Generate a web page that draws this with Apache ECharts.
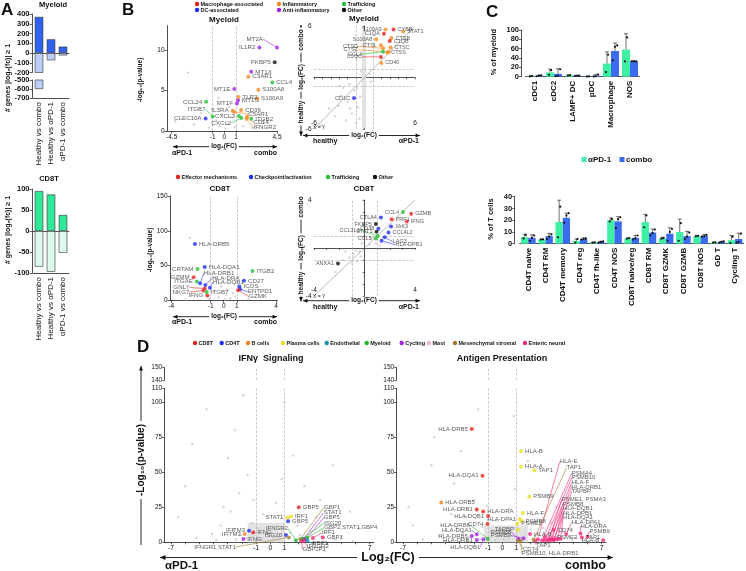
<!DOCTYPE html>
<html><head><meta charset="utf-8">
<script src="https://cdn.jsdelivr.net/npm/echarts@6/dist/echarts.min.js"></script>
<style>html,body{margin:0;padding:0;background:#fff}#c{width:746px;height:571px}</style>
</head><body><div id="c"></div>
<script>
const FONT = '"Liberation Sans", Arial, "DejaVu Sans", sans-serif';
// ================= DATA =================
// Panel A
const aCats = ['Healthy vs combo', 'Healthy vs αPD-1', 'αPD-1 vs combo'];
const aMyeloidUp = [370, 140, 65];
const aMyeloidDown = [-600, -75, -25];
const aCD8Up = [95, 87, 38];
const aCD8Down = [-85, -97, -52];
const aMyeloidTicksUpper = [-200, -100, 0, 100, 200, 300, 400];
const aMyeloidTicksLower = [-700, -600, -500];
const aCD8Ticks = [-100, -50, 0, 50, 100];

// Panel B  [log2FC, value, gene, group]
const bMyeloidVolcano = [
  [4.5,10.3,'MT2A','anti'],[3.0,10.3,'IL1R2','anti'],[4.3,8.5,'FKBP5','other'],[2.3,7.3,'MT1X','anti'],
  [2.05,6.7,'C3AR1','infl'],[4.1,6.0,'CCL4','traf'],[0.85,5.2,'MT1E','anti'],[2.9,5.1,'S100A8','infl'],
  [1.2,4.2,'TLR2','infl'],[2.8,4.0,'S100A9','infl'],[-1.55,3.6,'CCL24','traf'],[1.17,3.8,'MT1G','anti'],
  [1.08,3.4,'MT1F','anti'],[1.43,2.6,'CD36','infl'],[0.7,2.5,'IL3RA','infl'],[0.85,2.35,'C5AR1','infl'],
  [-1.0,1.8,'ITGB7','traf'],[-1.6,1.55,'CLEC10A','dc'],[1.25,1.85,'CXCL3','traf'],[1.45,1.6,'CXCL2','traf'],
  [2.3,1.5,'ITGB2','traf'],[1.95,1.75,'CD14','infl'],[1.9,1.5,'IFNGR2','infl']
];
const bMyeloidVolcanoGray = [[-3.1,7.2],[-4.2,1.2],[-2.6,0.8],[-0.4,0.6],[0.3,0.9],[-0.7,1.3],[0.6,1.7],[0.1,0.3],[-0.2,2.1],[0.9,0.5],[-1.3,0.4],[1.6,0.6],[2.4,0.4],[-2.0,2.2],[0.4,3.0],[-0.5,4.1],[3.3,1.0]];
const bMyeloidScatter = [
  [3.45,5.6,'CYBB','mac'],[4.6,5.35,'STAT1','infl'],[2.5,5.6,'S100A9','infl'],[2.3,5.1,'C1QA','mac'],
  [1.4,4.45,'S100A8','infl'],[3.2,4.6,'CTSB','infl'],[3.0,4.25,'C1QB','mac'],[1.95,3.75,'CTSL','infl'],
  [2.2,3.4,'CTSD','infl'],[2.9,3.0,'CTSZ','infl'],[3.1,3.5,'CTSC','infl'],[2.2,3.0,'CCL3','traf'],
  [1.95,2.4,'C1QC','mac'],[2.7,2.9,'CTSS','infl'],[2.0,1.7,'CD40','infl'],[-1.24,-2.4,'CD1C','dc']
];
const bMyeloidScatterGray = [[-1.2,-1.5],[-2.0,-2.8],[-0.8,-3.5],[-1.5,-4.2],[-2.5,-1.2],[-3.1,-3.3],[-0.5,-2.2],[-1.8,-0.8],[-3.5,-4.5],[-2.2,-5.0],[-4.2,-3.6],[-1.0,-5.3],[-0.6,-4.8],[-2.8,-2.1],[-1.4,-2.5],[-0.9,-1.2],[-3.0,-1.0],[-1.7,-3.6],[0.6,0.4],[0.8,-0.5],[-0.4,0.7],[-5.2,-5.6]];
const bCD8Volcano = [
  [-2.2,81,'HLA-DRB5','chk'],[-2.0,45,'CRTAM','traf'],[-1.45,48,'HLA-DQA1','chk'],[-2.3,33,'GZMM','eff'],
  [-2.05,27,'ITGAE','traf'],[-1.8,24.5,'HLA-DRB1','chk'],[-1.4,22,'HLA-DRA','chk'],[-1.05,18,'HLA-DQB1','chk'],
  [-1.45,17,'GNLY','eff'],[-1.55,14,'NKG7','eff'],[-1.25,7,'IFNG','eff'],[-1.3,12,'ITGB7','traf'],
  [2.2,42,'ITGB2','traf'],[1.55,28,'CD27','chk'],[1.2,20,'ICOS','chk'],[1.25,16,'ENTPD1','chk'],[1.1,14.5,'GZMK','eff']
];
const bCD8VolcanoGray = [[-0.4,4],[0.2,8],[-0.8,12],[0.5,3],[-0.2,20],[0.7,10],[-1.1,2],[0.9,5],[-0.6,30],[0.3,15],[-2.9,1],[1.9,2],[-2.6,90],[0.1,1]];
const bCD8Scatter = [
  [3.05,3.0,'CCL4','traf'],[3.7,2.85,'GZMB','eff'],[2.15,2.4,'PRF1','eff'],[3.35,2.2,'IFNG','eff'],
  [1.3,2.55,'CTLA4','chk'],[0.9,2.0,'FKBP5','other'],[1.1,1.6,'CD38','chk'],[0.95,1.35,'STAT1','other'],
  [2.1,1.8,'JAK3','chk'],[1.05,1.0,'CCL3L3','traf'],[0.9,0.8,'CCL5','traf'],[1.9,1.3,'CCL4L2','chk'],
  [1.6,0.9,'LAG3','chk'],[1.35,0.6,'HLA-DPB1','chk'],[-2.1,-1.3,'ANXA1','other']
];
const bCD8ScatterGray = [[-1.5,-0.3],[-1.2,-0.8],[-0.9,-0.5],[-0.6,-1.1],[-1.7,-1.0],[-0.4,-0.3],[-1.0,-1.3],[-0.7,-0.2],[0.4,0.3],[0.7,0.9],[0.9,0.4],[0.5,0.8],[1.2,0.2],[-0.3,-0.7],[-2.3,-2.0],[-0.2,0.4]];

// Panel C
const cMyeloidCats = ['cDC1','cDC2','LAMP+ DC','pDC','Macrophage','NOS'];
const cMyeloidPD1 = [1, 9, 3, 0.5, 28, 58];
const cMyeloidCombo = [2, 6, 2, 2, 55, 33];
const cMyeloidPD1Sd = [1, 7, 1, 0.5, 25, 34];
const cMyeloidComboSd = [1, 11, 1, 3, 17, 1];
const cMyeloidPD1Pts = [[0.5,1.5],[4,14],[2.5,3.5],[0.3,0.7],[10,47],[33,84]];
const cMyeloidComboPts = [[1,2.5,3],[1,2,16],[1.5,2,2.5],[0.5,1,4.5],[35,64,67],[33,33,33]];
const cTCats = ['CD4T naive','CD4T RM','CD4T memory','CD4T reg','CD4T fh-like','CD4T NOS','CD8T naive/reg','CD8T RM','CD8T GZMK','CD8T GZMB','CD8T NOS','GD T','Cycling T'];
const cTPD1 = [5.5,3.5,18.5,2.3,1,20,4.5,18.5,4.5,10,6.5,1,3];
const cTCombo = [5,6.5,22,4,1.5,19,5,9.5,8.5,6.5,6.5,1.5,4];
const cTPD1Sd = [2.5,0.5,18.5,1.7,0.2,1.8,0.5,6.5,1,11,0.5,0.3,4];
const cTComboSd = [2.5,2.3,4,1,0.5,4,2,3,5,4,1.2,0.5,5];
const cTPD1Pts = [[4.5,7.5],[3.5,3.7],[5.5,31.5],[1,4],[0.9,1.1],[19,21],[4.2,4.8],[14,24],[4.3,4.8],[2.5,17.5],[6.3,6.7],[0.9,1.1],[0.5,6]];
const cTComboPts = [[2.5,5,7],[4,6,8],[18,24,26],[3.5,4,4.5],[1,1.5,2],[13.5,21,22.5],[3.5,4.5,7],[7,9,12],[2.5,10,12.5],[4,6,9.5],[6,6.5,7.5],[1,1.5,2],[1,1.5,8.5]];

// Panel D
const dGroups = ['CD8T','CD4T','B cells','Plasma cells','Endothelial','Myeloid','Cycling','Mast','Mesenchymal stromal','Enteric neural'];
const dIfng = [
  [2.0,25,'GBP5','cd8'],[1.2,17.5,'STAT1','plasma'],[1.45,18.5,'IRF1','plasma'],[1.25,15,'GBP5','cd4'],
  [-1.5,8.3,'IFITM3','cd4'],[-1.2,7,'IFNG','cd8'],[-1.8,6,'IFITM3','b'],[-1.9,2.4,'IFNG','cycling'],
  [1.1,5.2,'ISG20','cd4'],[1.8,1.5,'IFNGR2','myeloid'],[1.3,3.5,'IFNGR1,STAT1','mes'],[2.1,2.2,'GBP1','mes'],
  [2.35,2.6,'STAT1','cycling'],[2.5,2.0,'GBP5','cycling'],[2.25,2.4,'ISG20','myeloid'],[2.6,3.2,'GBP2,STAT1,GBP4','myeloid'],
  [3.0,3.0,'IRF1','neural'],[3.7,3.5,'GBP1','neural'],[2.6,1.2,'GBP1','endo'],[2.35,1.0,'IFNGR2','neural'],[2.2,0.8,'GBP1P1','neural']
];
const dIfngGray = [[-3.5,12],[-2.8,22],[-4.1,6],[-5.2,3],[-2.2,35],[-1.6,48],[-3.0,60],[-2.5,80],[-1.9,105],[-4.5,95],[-6.0,40],[-0.5,20],[0.4,28],[0.8,45],[1.6,62],[2.4,40],[3.2,18],[4.1,9],[5.0,4],[2.8,8],[1.9,12],[-0.9,10],[-1.3,14],[-0.3,6],[0.6,4],[-2.1,5],[-2.6,9],[3.5,30],[4.4,55],[5.6,22],[6.2,10],[-6.5,18],[-5.5,70],[1.0,100],[-3.3,25],[-1.2,30],[0.2,3],[-0.6,2],[1.4,7],[2.1,5],[-1.7,3],[-2.4,2],[3.6,4],[4.6,2],[-3.8,1.5],[5.8,1]];
const dAntigen = [
  [-2.15,81,'HLA-DRB5','cd8'],[1.32,65,'HLA-B','plasma'],[1.32,54,'HLA-A','plasma'],[2.25,51.5,'TAP1','plasma'],
  [-1.4,47.5,'HLA-DQA1','cd8'],[1.9,32.5,'PSMB9','plasma'],[-4.3,28.5,'HLA-DRB5','b'],[-1.8,23.5,'HLA-DRB1','cd8'],
  [-1.35,22,'HLA-DRA','cd8'],[-1.0,18.8,'HLA-DQB1','cd8'],[1.45,21,'HLA-F','plasma'],[1.25,16.5,'HLA-DPA1','plasma'],
  [1.35,15.3,'PSMB8','plasma'],[1.05,13.3,'PSME2','plasma'],[-1.05,13,'CD74','cd8'],
  [-1.8,5.7,'HLA-DQA1','cycling'],[-2.15,4.5,'HLA-DRB5','cycling'],[-1.8,1.6,'HLA-DRB1','cycling'],[-1.34,2.1,'HLA-DQB1','cycling'],[-1.03,2.6,'HLA-DRB6','myeloid'],
  [1.1,9,'TAPBP','plasma'],[1.13,2.4,'PSMB8','cycling'],[1.5,2.9,'PSMB9','cycling'],[1.1,1.2,'CD74','mes'],[1.3,1.0,'PSMB10, HLA-DRB1','mes'],
  [1.95,6,'HLA-B','neural'],[2.3,1.0,'TAP1','neural'],[2.5,2.0,'HLA-E','neural'],[2.2,1.8,'TAP1','mes'],[2.8,1.5,'PSMA4','neural'],
  [3.0,1.6,'PSMB10','neural'],[3.2,1.5,'HLA-F','neural'],[3.4,1.7,'HLA-DRB1','neural'],[3.6,1.6,'TAPBP','neural'],[3.3,2.2,'PSME1, PSMA3','neural'],
  [3.5,2.4,'PSMB8','neural'],[3.7,2.0,'HLA-DQB1','neural'],[3.9,2.2,'HLA-DPB1','neural'],[4.1,2.5,'HLA-DQA1','neural'],[4.5,6,'HLA-DPA1','neural'],
  [5.5,6.2,'HLA-DRA','neural'],[6.0,4.2,'PSMB9','neural'],[3.6,8.8,'CD74','neural'],[3.0,3.8,'PSME2','neural'],[5.6,3.5,'TAP1','neural'],[7.1,1.5,'HLA-B','neural']
];
const dAntigenGray = [[-3.2,10],[-2.6,18],[-4.4,5],[-5.6,2],[-2.0,30],[-3.4,42],[-2.9,65],[-1.7,95],[-5.0,55],[-6.3,12],[-0.4,15],[0.5,24],[0.9,38],[1.8,58],[2.6,34],[3.4,14],[4.3,7],[5.2,3],[2.9,10],[2.0,9],[-0.8,8],[-1.4,11],[-0.2,5],[0.4,3],[-2.3,4],[-2.8,7],[3.8,25],[4.8,40],[5.9,16],[6.4,6],[-6.6,25],[-4.8,75],[0.8,90],[-3.6,20],[-1.1,26],[0.1,2],[-0.5,1.5],[1.6,6],[2.3,4],[-1.6,2],[-2.5,1.5],[3.9,3],[4.9,1.5],[-4.0,1],[6.1,1]];

// Label layout tables (side[:dx:dy] in px from point centre)
const layBMV = ['L:-14:-8.6','L','L','R','R','R','L','R','R','R','L','R','L','R','L','R:14:2','L:-7:-7','L','L','L:-10:5','R','R:6:5.5','R:7:8.5'];
const layBMS = ['R','R','L','L','L','R','R','L','L:-25:-2','L:-31:-2','R','L:-21:2.4','L:-19:0','R','R','L'];
const layBCV = ['R','L','R','L','L','R:3.6:-10','R:7:-7','R:3:-5.5','L:-15:-1','L:-14:1.5','L','R','R','R','R','R:7.6:2.5','R:11:6.5'];
const layBCS = ['L','R','R','R','L','L','L','L','R','L:-18:-6','L','R','R:8:4.5','R:14:4','L'];
const layDI = ['R','L','R','R','L','R','L','R','L','L:-8:-11.5','L:-53:9.6','R:24:-32','R:20:-26','R:18:-22','R:22:-16','R:17:-10','R:9:-5.4','R','R:4.5:2.7','R:3:5','R:1:8'];
const layDA = ['L','R','R','R','L','R','R','L','R','L','R','L','R','R','L',
  'L:-5:-4','L','L','L:-3:7.5','L:-17.7:-13.7',
  'L','L:-7:-7','L:-12.6:-2.7','R:5:8.5','R:1:12',
  'R','R:1:4','R:22:-78','R:33:-72','R:29.6:-67','R:26.8:-62.4','R:24:-57.5','R:21:-52.6','R:18.3:-48.3','R:12.5:-40','R:11:-35','R:8:-31','R:5.3:-26','R:2.5:-21.5','R:5.5:-11.6','R:0:-7','R:2:-5','R','R:12:0','R','L'];

// ================= STYLE =================
const bColors = {mac:'#e8231f', dc:'#1f2ef0', infl:'#f58a1f', anti:'#a322e0', traf:'#22c23a', other:'#111111', eff:'#e8231f', chk:'#1f2ef0'};
const dColors = {cd8:'#e8231f', cd4:'#1f2ef0', b:'#f5821f', plasma:'#eee01a', endo:'#1f8fae', myeloid:'#22b52c', cycling:'#a322e0', mast:'#f4b4d4', mes:'#a07a2c', neural:'#f0287a'};
const dLegendColors = ['#e8231f','#1f2ef0','#f5821f','#eee01a','#1f8fae','#22b52c','#a322e0','#f4b4d4','#a07a2c','#f0287a'];
const GREEN = '#3ff0a2', BLUE = '#3b6cf0', GRAY = '#cdcdcd';

const grids = [], xAxes = [], yAxes = [], series = [], G = [];
function addGrid(left, top, width, height){ grids.push({left, top, width, height, containLabel:false}); return grids.length-1; }
function addX(o){ xAxes.push(o); return xAxes.length-1; }
function addY(o){ yAxes.push(o); return yAxes.length-1; }
const AL = (onZero, show=true)=>({show, onZero:!!onZero, lineStyle:{color:'#222', width:0.8}});
const TK = (vals, len=2.5)=>({show:true, length:len, customValues:vals, lineStyle:{color:'#222', width:0.7}});
const LB = (vals, o={})=>Object.assign({show:true, customValues:vals, fontSize:6.5, color:'#111', fontFamily:FONT, margin:2.5}, o);
const NOSPLIT = {show:false};

function parseLay(s){ const p = s.split(':'); return {side:p[0], dx:p.length>1?+p[1]:(p[0]==='L'?-4:4), dy:p.length>1?+p[2]:0, moved:p.length>1}; }
function ptSeries(xi, yi, arr, lay, colors, fs){
  const L = lay.map(parseLay);
  return {type:'scatter', xAxisIndex:xi, yAxisIndex:yi, symbolSize:4, z:5, animation:false,
    data: arr.map((d,i)=>({value:[d[0],d[1]], name:d[2], itemStyle:{color:colors[d[3]]},
      labelLine:{show:L[i].moved, lineStyle:{color:colors[d[3]], width:0.6}}})),
    label:{show:true, formatter:'{b}', fontSize:fs||6, color:'#333', fontFamily:FONT},
    labelLayout:(p)=>{ const l=L[p.dataIndex]; const cx=p.rect.x+p.rect.width/2, cy=p.rect.y+p.rect.height/2;
      return {x:cx+l.dx, y:cy+l.dy, align:l.side==='L'?'right':'left', verticalAlign:'middle'}; }
  };
}
function graySeries(xi, yi, arr, lines, area){
  const s = {type:'scatter', xAxisIndex:xi, yAxisIndex:yi, symbolSize:2.5, silent:true, z:2, data:arr, itemStyle:{color:GRAY}};
  if (lines) s.markLine = {silent:true, symbol:'none', label:{show:false}, lineStyle:{type:'dashed', color:'#b5b5b5', width:0.7}, data:lines};
  if (area) s.markArea = {silent:true, itemStyle:{color:'#e2e2e2'}, data:area};
  return s;
}
function T(x, y, text, o={}){
  G.push({type:'text', x, y, rotation:o.rot||0, z:20, silent:true,
    style:{text, fill:o.color||'#111', font:(o.bold===false?'':'bold ')+(o.size||7)+'px '+FONT,
      align:o.align||'left', verticalAlign:o.va||'middle', backgroundColor:o.bg||null, padding:o.pad||0}});
}
function dot(x, y, c, r=2.2){ G.push({type:'circle', shape:{cx:x, cy:y, r}, style:{fill:c}, z:20, silent:true}); }
function rect(x, y, w, h, c){ G.push({type:'rect', shape:{x, y, width:w, height:h}, style:{fill:c}, z:20, silent:true}); }
function arrowH(x1, x2, y, h=2.6){
  G.push({type:'line', shape:{x1, y1:y, x2, y2:y}, style:{stroke:'#111', lineWidth:0.9}, z:15, silent:true});
  G.push({type:'polygon', shape:{points:[[x1,y],[x1+h*1.7,y-h*0.75],[x1+h*1.7,y+h*0.75]]}, style:{fill:'#111'}, z:15, silent:true});
  G.push({type:'polygon', shape:{points:[[x2,y],[x2-h*1.7,y-h*0.75],[x2-h*1.7,y+h*0.75]]}, style:{fill:'#111'}, z:15, silent:true});
}
function arrowV(x, y1, y2, both=true, h=2.6){
  G.push({type:'line', shape:{x1:x, y1, x2:x, y2}, style:{stroke:'#111', lineWidth:0.9}, z:15, silent:true});
  G.push({type:'polygon', shape:{points:[[x,y1],[x-h*0.75,y1+h*1.7],[x+h*0.75,y1+h*1.7]]}, style:{fill:'#111'}, z:15, silent:true});
  if (both) G.push({type:'polygon', shape:{points:[[x,y2],[x-h*0.75,y2-h*1.7],[x+h*0.75,y2-h*1.7]]}, style:{fill:'#111'}, z:15, silent:true});
}

// ================= PANEL A =================
const gA0 = addGrid(33, 14, 36, 58.5);
const xA0 = addX({type:'category', gridIndex:gA0, data:aCats, axisLine:AL(true), axisTick:{show:false}, axisLabel:{show:false}});
const yA0 = addY({type:'value', gridIndex:gA0, min:-200, max:400, offset:1, axisLine:AL(false), axisTick:TK(aMyeloidTicksUpper), axisLabel:LB(aMyeloidTicksUpper,{fontWeight:'bold', fontSize:7.5}), splitLine:NOSPLIT});
const gA1 = addGrid(33, 80, 36, 18);
const xA1 = addX({type:'category', gridIndex:gA1, data:aCats, axisLine:AL(false), axisTick:{show:false}, axisLabel:{interval:0, rotate:90, fontSize:8, color:'#111', fontFamily:FONT, margin:4}});
const yA1 = addY({type:'value', gridIndex:gA1, min:-700, max:-500, offset:1, axisLine:AL(false), axisTick:TK(aMyeloidTicksLower), axisLabel:LB(aMyeloidTicksLower,{fontWeight:'bold', fontSize:7.5}), splitLine:NOSPLIT});
const barBorder = {borderColor:'#333', borderWidth:0.6};
series.push({type:'bar', xAxisIndex:xA0, yAxisIndex:yA0, data:aMyeloidUp, barWidth:8.5, barGap:'-100%', itemStyle:Object.assign({color:'#2f62ee'}, barBorder)});
series.push({type:'bar', xAxisIndex:xA0, yAxisIndex:yA0, data:aMyeloidDown, barWidth:8.5, barGap:'-100%', itemStyle:Object.assign({color:'#bccffa'}, barBorder)});
series.push({type:'bar', xAxisIndex:xA1, yAxisIndex:yA1, data:aMyeloidDown, barWidth:8.5, itemStyle:Object.assign({color:'#bccffa'}, barBorder)});
const gA2 = addGrid(33, 189, 36, 84);
const xA2 = addX({type:'category', gridIndex:gA2, data:aCats, position:'bottom', axisLine:AL(true), axisTick:{show:false}, axisLabel:{show:false}});
const xA3 = addX({type:'category', gridIndex:gA2, data:aCats, position:'bottom', axisLine:AL(false), axisTick:{show:false}, axisLabel:{interval:0, rotate:90, fontSize:8, color:'#111', fontFamily:FONT, margin:4}});
const yA2 = addY({type:'value', gridIndex:gA2, min:-100, max:100, offset:1, axisLine:AL(false), axisTick:TK(aCD8Ticks), axisLabel:LB(aCD8Ticks,{fontWeight:'bold', fontSize:7.5}), splitLine:NOSPLIT});
series.push({type:'bar', xAxisIndex:xA2, yAxisIndex:yA2, data:aCD8Up, barWidth:8.5, barGap:'-100%', itemStyle:Object.assign({color:'#30e896'}, barBorder)});
series.push({type:'bar', xAxisIndex:xA2, yAxisIndex:yA2, data:aCD8Down, barWidth:8.5, barGap:'-100%', itemStyle:Object.assign({color:'#dcfbec'}, barBorder)});
T(1, 2, 'A', {size:17, va:'top'});
T(53, 5, 'Myeloid', {size:7.5, align:'center'});
T(49, 179, 'CD8T', {size:7.5, align:'center'});
T(8, 78, '# genes |log₂(fc)| ≥ 1', {size:7, align:'center', rot:Math.PI/2});
T(8, 230, '# genes |log₂(fc)| ≥ 1', {size:7, align:'center', rot:Math.PI/2});

// ================= PANEL B =================
T(122, 2, 'B', {size:17, va:'top'});
[[197,4,'#e8231f','Macrophage-associated'],[279,4,'#f58a1f','Inflammatory'],[344,4,'#22c23a','Trafficking'],
 [197,10,'#1f2ef0','DC-associated'],[279,10,'#a322e0','Anti-inflammatory'],[344,10,'#111','Other']].forEach(l=>{dot(l[0],l[1],l[2],2.2); T(l[0]+3.5,l[1],l[3],{size:5.5});});
[[178,177,'#e8231f','Effector mechanisms'],[251,177,'#1f2ef0','Checkpoint/activation'],[328,177,'#22c23a','Trafficking'],[375,177,'#111','Other']].forEach(l=>{dot(l[0],l[1],l[2],2.2); T(l[0]+3.5,l[1],l[3],{size:5.5});});

// Myeloid volcano
const gBMV = addGrid(167, 25.7, 110, 105.3);
const xBMV = addX({type:'value', gridIndex:gBMV, min:-4.9, max:4.5, axisLine:AL(false), axisTick:TK([-4.5,-1,0,1,4.5]), axisLabel:LB([-4.5,-1,0,1,4.5]), splitLine:NOSPLIT});
const yBMV = addY({type:'value', gridIndex:gBMV, min:0, max:13, axisLine:AL(false), axisTick:TK([0,5,10]), axisLabel:LB([0,5,10]), splitLine:NOSPLIT});
series.push(graySeries(xBMV, yBMV, bMyeloidVolcanoGray, [{xAxis:-1},{xAxis:1}]));
series.push(ptSeries(xBMV, yBMV, bMyeloidVolcano, layBMV, bColors, 6.2));
T(224, 19.5, 'Myeloid', {size:8, align:'center'});
T(140, 80, '-log₁₀(p-value)', {size:6.5, align:'center', rot:Math.PI/2});
arrowH(173, 277, 146.7);
T(224, 146.7, 'log₂(FC)', {size:6.5, align:'center', bg:'#fff', pad:[0,2]});
T(172, 153, 'αPD-1', {size:7});
T(277, 153, 'combo', {size:7, align:'right'});

// Myeloid scatter
const gBMS = addGrid(314, 26, 101, 103);
const sixTicks = [-6,-5,-4,-3,-2,-1,0,1,2,3,4,5,6];
const xBMS = addX({type:'value', gridIndex:gBMS, min:-6, max:6, axisLine:AL(true), axisTick:TK(sixTicks,1.8), axisLabel:LB([-6,6],{inside:true}), splitLine:NOSPLIT});
const yBMS = addY({type:'value', gridIndex:gBMS, min:-6, max:6, axisLine:AL(true), axisTick:TK(sixTicks,1.8), axisLabel:LB([-6,6]), splitLine:NOSPLIT});
series.push(graySeries(xBMS, yBMS, bMyeloidScatterGray, [{xAxis:-1},{xAxis:1},{yAxis:-1},{yAxis:1}], [[{xAxis:-0.3, yAxis:-5.9},{xAxis:0.2, yAxis:5.4}]]));
series.push({type:'line', xAxisIndex:xBMS, yAxisIndex:yBMS, data:[[-6,-6],[6,6]], symbol:'none', silent:true, z:3, lineStyle:{color:'#999', width:0.7}});
series.push(ptSeries(xBMS, yBMS, bMyeloidScatter, layBMS, bColors, 5.5));
T(364, 19, 'Myeloid', {size:8, align:'center'});
T(313, 127.5, 'X = Y', {size:5, bold:false});
arrowV(301, 25, 136);
T(301, 40, 'combo', {size:6.5, align:'center', rot:Math.PI/2, bg:'#fff', pad:[0,2]});
T(301, 77, 'log₂(FC)', {size:6.5, align:'center', rot:Math.PI/2, bg:'#fff', pad:[0,2]});
T(301, 112, 'healthy', {size:6.5, align:'center', rot:Math.PI/2, bg:'#fff', pad:[0,2]});
arrowH(303, 420, 135.5);
T(364, 135.5, 'log₂(FC)', {size:6.5, align:'center', bg:'#fff', pad:[0,2]});
T(313, 141.5, 'healthy', {size:7});
T(419, 141.5, 'αPD-1', {size:7, align:'right'});

// CD8T volcano
const gBCV = addGrid(170, 196, 107.4, 104.3);
const xBCV = addX({type:'value', gridIndex:gBCV, min:-4.1, max:4.1, axisLine:AL(false), axisTick:TK([-4,-1,0,1,4]), axisLabel:LB([-4,-1,0,1,4]), splitLine:NOSPLIT});
const yBCV = addY({type:'value', gridIndex:gBCV, min:0, max:150, axisLine:AL(false), axisTick:TK([0,50,100,150]), axisLabel:LB([0,50,100,150]), splitLine:NOSPLIT});
series.push(graySeries(xBCV, yBCV, bCD8VolcanoGray, [{xAxis:-1},{xAxis:1}]));
series.push(ptSeries(xBCV, yBCV, bCD8Volcano, layBCV, bColors, 6.2));
T(220, 189, 'CD8T', {size:8, align:'center'});
T(150, 250, '-log₁₀(p-value)', {size:6.5, align:'center', rot:Math.PI/2});
arrowH(173, 277, 316.7);
T(224, 316.7, 'log₂(FC)', {size:6.5, align:'center', bg:'#fff', pad:[0,2]});
T(172, 322.5, 'αPD-1', {size:7});
T(277, 322.5, 'combo', {size:7, align:'right'});

// CD8T scatter
const gBCS = addGrid(314, 200, 101, 96);
const fourTicks = [-4,-3,-2,-1,0,1,2,3,4];
const xBCS = addX({type:'value', gridIndex:gBCS, min:-4, max:4, axisLine:AL(true), axisTick:TK(fourTicks,1.8), axisLabel:LB([-4,4],{inside:true}), splitLine:NOSPLIT});
const yBCS = addY({type:'value', gridIndex:gBCS, min:-4, max:4, axisLine:AL(true), axisTick:TK(fourTicks,1.8), axisLabel:LB([-4,4]), splitLine:NOSPLIT});
series.push(graySeries(xBCS, yBCS, bCD8ScatterGray, [{xAxis:-1},{xAxis:1},{yAxis:-1},{yAxis:1}]));
series.push({type:'line', xAxisIndex:xBCS, yAxisIndex:yBCS, data:[[-4,-4],[4,4]], symbol:'none', silent:true, z:3, lineStyle:{color:'#999', width:0.7}});
series.push(ptSeries(xBCS, yBCS, bCD8Scatter, layBCS, bColors, 5.5));
T(364, 189, 'CD8T', {size:8, align:'center'});
T(313, 296.5, 'X = Y', {size:5, bold:false});
arrowV(301, 196, 301.5);
T(301, 207, 'combo', {size:6.5, align:'center', rot:Math.PI/2, bg:'#fff', pad:[0,2]});
T(301, 248, 'log₂(FC)', {size:6.5, align:'center', rot:Math.PI/2, bg:'#fff', pad:[0,2]});
T(301, 283, 'healthy', {size:6.5, align:'center', rot:Math.PI/2, bg:'#fff', pad:[0,2]});
arrowH(303, 420, 300.7);
T(364, 300.7, 'log₂(FC)', {size:6.5, align:'center', bg:'#fff', pad:[0,2]});
T(313, 306.7, 'healthy', {size:7});
T(419, 306.7, 'αPD-1', {size:7, align:'right'});

// ================= PANEL C =================
T(486, 4, 'C', {size:17, va:'top'});
function errDots(xi, yi, means, sds, pts, sign, bw){
  return {type:'custom', xAxisIndex:xi, yAxisIndex:yi, z:6, silent:true, data:means.map((m,i)=>[i,m,sds[i]]),
    renderItem:(params, api)=>{
      const i = api.value(0), m = api.value(1), sd = api.value(2);
      const b = api.coord([i, m]); const cx = b[0] + sign*bw/2; const top = api.coord([i, m+sd])[1];
      const ch = [{type:'line', shape:{x1:cx, y1:b[1], x2:cx, y2:top}, style:{stroke:'#333', lineWidth:0.7}},
                  {type:'line', shape:{x1:cx-2, y1:top, x2:cx+2, y2:top}, style:{stroke:'#333', lineWidth:0.7}}];
      const p = pts[i], n = p.length;
      p.forEach((v,k)=>{ const off = n===1?0:(k-(n-1)/2)*2.2; const c = api.coord([i, v]); ch.push({type:'circle', shape:{cx:cx+off, cy:c[1], r:1.1}, style:{fill:'#111'}}); });
      return {type:'group', children:ch};
    }};
}
const catLabel = {interval:0, rotate:90, fontSize:8, fontWeight:'bold', color:'#111', fontFamily:FONT, margin:4};
const gCM = addGrid(525.5, 30, 114, 46.7);
const xCM = addX({type:'category', gridIndex:gCM, data:cMyeloidCats, axisLine:AL(false), axisTick:{show:false}, axisLabel:catLabel});
const myTicks = [0,20,40,60,80,100];
const yCM = addY({type:'value', gridIndex:gCM, min:0, max:100, offset:4, axisLine:AL(false), axisTick:TK(myTicks), axisLabel:LB(myTicks,{fontWeight:'bold', fontSize:7.5}), splitLine:NOSPLIT});
series.push({type:'bar', xAxisIndex:xCM, yAxisIndex:yCM, data:cMyeloidPD1, barWidth:8, barGap:'0%', itemStyle:{color:GREEN}});
series.push({type:'bar', xAxisIndex:xCM, yAxisIndex:yCM, data:cMyeloidCombo, barWidth:8, barGap:'0%', itemStyle:{color:BLUE}});
series.push(errDots(xCM, yCM, cMyeloidPD1, cMyeloidPD1Sd, cMyeloidPD1Pts, -1, 8));
series.push(errDots(xCM, yCM, cMyeloidCombo, cMyeloidComboSd, cMyeloidComboPts, 1, 8));
T(494, 52, '% of myeloid', {size:7.5, align:'center', rot:Math.PI/2});

const gCT = addGrid(519.7, 196.7, 224, 47);
const xCT = addX({type:'category', gridIndex:gCT, data:cTCats, axisLine:AL(false), axisTick:{show:false}, axisLabel:catLabel});
const tTicks = [0,10,20,30,40];
const yCT = addY({type:'value', gridIndex:gCT, min:0, max:40, offset:5, axisLine:AL(false), axisTick:TK(tTicks), axisLabel:LB(tTicks,{fontWeight:'bold', fontSize:7.5}), splitLine:NOSPLIT});
series.push({type:'bar', xAxisIndex:xCT, yAxisIndex:yCT, data:cTPD1, barWidth:7.3, barGap:'0%', itemStyle:{color:GREEN}});
series.push({type:'bar', xAxisIndex:xCT, yAxisIndex:yCT, data:cTCombo, barWidth:7.3, barGap:'0%', itemStyle:{color:BLUE}});
series.push(errDots(xCT, yCT, cTPD1, cTPD1Sd, cTPD1Pts, -1, 7.3));
series.push(errDots(xCT, yCT, cTCombo, cTComboSd, cTComboPts, 1, 7.3));
T(491, 219, '% of T cells', {size:7.5, align:'center', rot:Math.PI/2});
rect(581.5, 157, 5, 5, GREEN); T(588, 159.5, 'αPD-1', {size:8});
rect(619.5, 157, 5, 5, BLUE); T(626, 159.5, 'combo', {size:8});

// ================= PANEL D =================
T(137, 339, 'D', {size:17, va:'top'});
const dLegX = [195, 221.7, 248, 283, 326.7, 366.7, 401.7, 429, 455, 525];
dGroups.forEach((g,i)=>{ dot(dLegX[i], 343, dLegendColors[i], 2.2); T(dLegX[i]+3.5, 343, g, {size:5.5}); });
const dXTicks = [-7,-6,-5,-4,-3,-2,-1,0,1,2,3,4,5,6,7];
const dXLabels = [-7,-1,0,1,7];
const dYLow = [0,25,50,75,100,110], dYHigh = [140,150];
function dPanel(left, pts, lay, gray, area){
  const gL = addGrid(left, 388.3, 209.3, 154);
  const xL = addX({type:'value', gridIndex:gL, min:-7.44, max:7.3, axisLine:AL(false), axisTick:TK(dXTicks,2), axisLabel:LB(dXLabels,{fontSize:7}), splitLine:NOSPLIT});
  const yL = addY({type:'value', gridIndex:gL, min:0, max:110, axisLine:AL(false), axisTick:TK(dYLow), axisLabel:LB(dYLow,{fontSize:6.5}), splitLine:NOSPLIT});
  const gH = addGrid(left, 367.7, 209.3, 12.3);
  const xH = addX({type:'value', gridIndex:gH, min:-7.44, max:7.3, show:false, splitLine:NOSPLIT});
  const yH = addY({type:'value', gridIndex:gH, min:140, max:150, axisLine:AL(false), axisTick:TK(dYHigh), axisLabel:LB(dYHigh,{fontSize:6.5}), splitLine:NOSPLIT});
  series.push(graySeries(xL, yL, gray, [{xAxis:-1},{xAxis:1}], area));
  series.push(graySeries(xH, yH, [], [{xAxis:-1},{xAxis:1}]));
  series.push(ptSeries(xL, yL, pts, lay, dColors, 6));
}
dPanel(164.7, dIfng, layDI, dIfngGray, [[{xAxis:-1.6, yAxis:0},{xAxis:1.0, yAxis:14}]]);
dPanel(396.7, dAntigen, layDA, dAntigenGray, [[{xAxis:-1.3, yAxis:0},{xAxis:1.8, yAxis:12}]]);
T(271, 359, 'IFNγ  Signaling', {size:9, align:'center'});
T(502, 359, 'Antigen Presentation', {size:9, align:'center'});
arrowV(141, 366, 545, false);
T(141, 460, '-Log₁₀(p-value)', {size:10, align:'center', rot:Math.PI/2, bg:'#fff', pad:[0,3]});
arrowH(160, 613, 557.5, 3.2);
T(388, 558, 'Log₂(FC)', {size:12.5, align:'center', bg:'#fff', pad:[0,4]});
T(165, 566, 'αPD-1', {size:11.5});
T(606, 566, 'combo', {size:12.5, align:'right'});

const chart = echarts.init(document.getElementById('c'), null, {renderer:'canvas'});
chart.setOption({animation:false, backgroundColor:'#fff', textStyle:{fontFamily:FONT},
  grid:grids, xAxis:xAxes, yAxis:yAxes, series, graphic:{elements:G}});
</script></body></html>
